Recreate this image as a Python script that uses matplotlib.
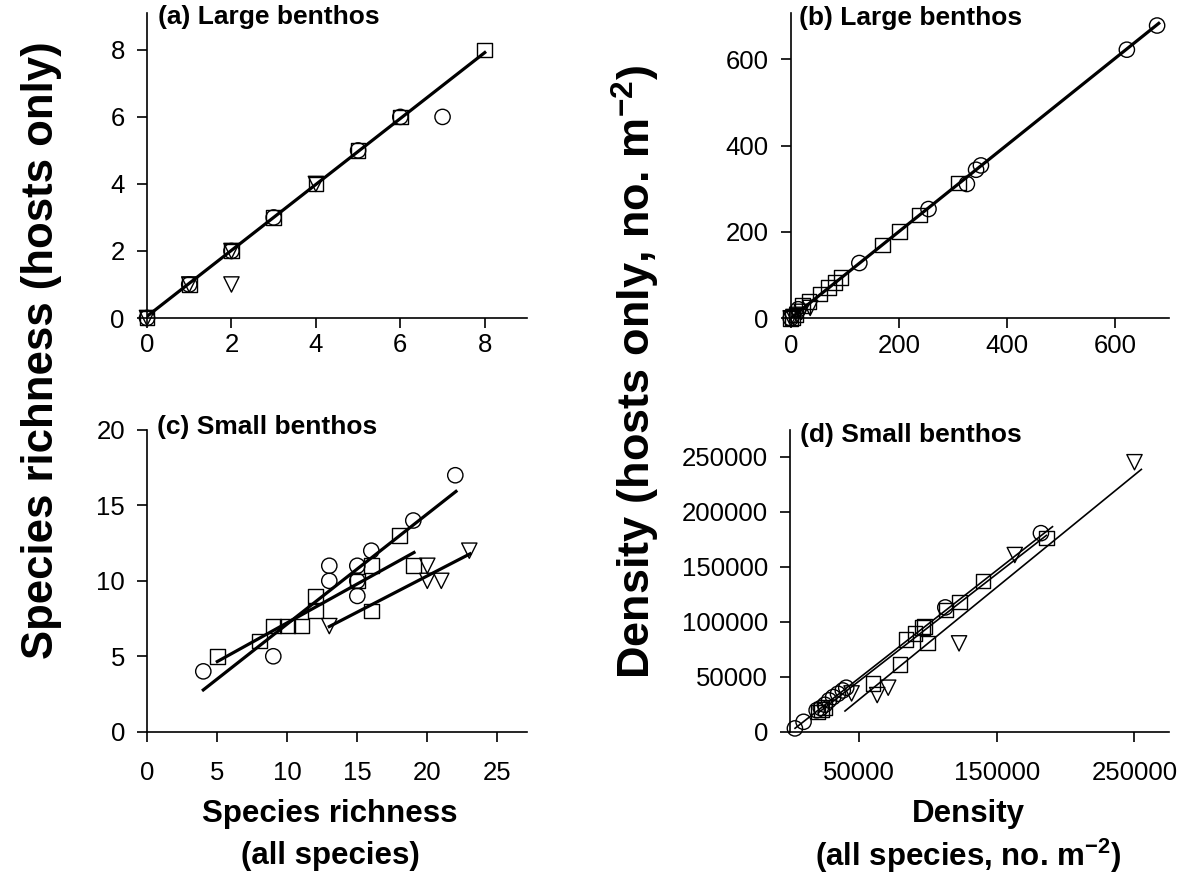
import matplotlib
matplotlib.use('Agg')
import matplotlib.pyplot as plt

plt.rcParams['font.family'] = ['Liberation Sans', 'DejaVu Sans']
plt.rcParams['mathtext.fontset'] = 'custom'
plt.rcParams['mathtext.rm'] = 'Liberation Sans'
plt.rcParams['mathtext.bf'] = 'Liberation Sans:bold'

# (a) large benthos, species richness
a_sq_x = [0, 1, 2, 3, 4, 5, 6, 8]
a_sq_y = [0, 1, 2, 3, 4, 5, 6, 8]
a_ci_x = [0, 1, 2, 3, 5, 6, 7]
a_ci_y = [0, 1, 2, 3, 5, 6, 6]
a_tr_x = [0, 1, 2, 2, 4]
a_tr_y = [0, 1, 2, 1, 4]
a_fit_x = [0, 8]
a_fit_y = [0.05, 7.92]

# (b) large benthos, density
b_ci_x = [0, 14, 127, 255, 326, 343, 352, 622, 678]
b_ci_y = [0, 21, 128, 253, 311, 344, 354, 622, 678]
b_sq_x = [0, 3, 10, 22, 34, 54, 70, 82, 93, 170, 201, 238, 310]
b_sq_y = [0, 2, 8, 29, 39, 56, 71, 83, 94, 170, 201, 239, 313]
b_tr_x = [0, 5, 12, 20, 36]
b_tr_y = [0, 3, 8, 15, 24]
b_fit_x = [0, 681]
b_fit_y = [0, 683]

# (c) small benthos, species richness
c_ci_x = [4, 9, 13, 13, 15, 15, 15, 16, 19, 22]
c_ci_y = [4, 5, 10, 11, 9, 10, 11, 12, 14, 17]
c_sq_x = [5, 8, 9, 10, 11, 12, 12, 15, 16, 16, 18, 19]
c_sq_y = [5, 6, 7, 7, 7, 8, 9, 10, 8, 11, 13, 11]
c_tr_x = [13, 20, 20, 21, 23]
c_tr_y = [7, 11, 10, 10, 12]
c_ci_fit_x = [4, 22.05]
c_ci_fit_y = [2.77, 15.93]
c_sq_fit_x = [5, 19.05]
c_sq_fit_y = [4.65, 11.88]
c_tr_fit_x = [13, 23.05]
c_tr_fit_y = [6.97, 11.79]

# (d) small benthos, density
d_ci_x = [3200, 9500, 19000, 22000, 25000, 28000, 31000, 34500, 38000, 40500, 112500, 182000]
d_ci_y = [3000, 9000, 19500, 21500, 24500, 28500, 31500, 34500, 37500, 40000, 113000, 180500]
d_sq_x = [20000, 22500, 25000, 60000, 79500, 84000, 90500, 96000, 97500, 99500, 113000, 123000, 140000, 186000]
d_sq_y = [18000, 20000, 22000, 44000, 61000, 84000, 89500, 94500, 95500, 80500, 110500, 118000, 137000, 176000]
d_tr_x = [44400, 63000, 71000, 122500, 163000, 250000]
d_tr_y = [34800, 33300, 40000, 80300, 160600, 245000]
d_ci_fit_x = [3300, 190400]
d_ci_fit_y = [3100, 186400]
d_sq_fit_x = [20000, 186000]
d_sq_fit_y = [17000, 178500]
d_tr_fit_x = [39600, 255000]
d_tr_fit_y = [18800, 238500]

W, H = 1184, 877
fig = plt.figure(figsize=(W / 100, H / 100), dpi=100)


def make_ax(l, r, b, t):
    ax = fig.add_axes([l / W, 1 - b / H, (r - l) / W, (b - t) / H])
    ax.spines['top'].set_visible(False)
    ax.spines['right'].set_visible(False)
    for s in ('left', 'bottom'):
        ax.spines[s].set_linewidth(1.2)
    ax.tick_params(direction='out', length=7, width=1.2, labelsize=18.5)
    ax.tick_params(axis='y', pad=9)
    return ax


def pts(ax, x, y, m, s):
    ax.scatter(x, y, marker=m, s=s ** 2, facecolors='none', edgecolors='black',
               linewidths=1.0, clip_on=False, zorder=3)


ax_a = make_ax(147, 527, 318, 13)
pts(ax_a, a_sq_x, a_sq_y, 's', 10.5)
pts(ax_a, a_ci_x, a_ci_y, 'o', 11)
pts(ax_a, a_tr_x, a_tr_y, 'v', 11)
ax_a.plot(a_fit_x, a_fit_y, color='black', lw=2.3, zorder=4)
ax_a.set_xlim(0, 9)
ax_a.set_ylim(0, 9.1)
ax_a.set_xticks([0, 2, 4, 6, 8])
ax_a.set_yticks([0, 2, 4, 6, 8])
ax_a.tick_params(axis='x', pad=4)

ax_b = make_ax(790.7, 1169, 318.3, 13)
pts(ax_b, b_sq_x, b_sq_y, 's', 10.5)
pts(ax_b, b_ci_x, b_ci_y, 'o', 11)
pts(ax_b, b_tr_x, b_tr_y, 'v', 11)
ax_b.plot(b_fit_x, b_fit_y, color='black', lw=2.3, zorder=4)
ax_b.set_xlim(0, 700)
ax_b.set_ylim(0, 707)
ax_b.set_xticks([0, 200, 400, 600])
ax_b.set_yticks([0, 200, 400, 600])
ax_b.tick_params(axis='x', pad=4)

ax_c = make_ax(147.3, 526.7, 731.7, 430)
pts(ax_c, c_sq_x, c_sq_y, 's', 10.5)
pts(ax_c, c_ci_x, c_ci_y, 'o', 11)
pts(ax_c, c_tr_x, c_tr_y, 'v', 11)
for fx, fy in [(c_ci_fit_x, c_ci_fit_y), (c_sq_fit_x, c_sq_fit_y), (c_tr_fit_x, c_tr_fit_y)]:
    ax_c.plot(fx, fy, color='black', lw=2.3, zorder=4)
ax_c.set_xlim(0, 27.1)
ax_c.set_ylim(0, 20)
ax_c.set_xticks([0, 5, 10, 15, 20, 25])
ax_c.set_yticks([0, 5, 10, 15, 20])
ax_c.tick_params(axis='x', pad=14)

ax_d = make_ax(790.5, 1169.3, 731.7, 430)
pts(ax_d, d_sq_x, d_sq_y, 's', 10.5)
pts(ax_d, d_ci_x, d_ci_y, 'o', 11)
pts(ax_d, d_tr_x, d_tr_y, 'v', 11)
for fx, fy in [(d_ci_fit_x, d_ci_fit_y), (d_sq_fit_x, d_sq_fit_y), (d_tr_fit_x, d_tr_fit_y)]:
    ax_d.plot(fx, fy, color='black', lw=1.2, zorder=4)
ax_d.set_xlim(0, 275300)
ax_d.set_ylim(0, 274300)
ax_d.set_xticks([50000, 150000, 250000])
ax_d.set_yticks([0, 50000, 100000, 150000, 200000, 250000])
ax_d.tick_params(axis='x', pad=14)

# panel titles
for x, y, t in [(158, 17, '(a) Large benthos'), (799, 18, '(b) Large benthos'),
                (157, 427, '(c) Small benthos'), (800, 435, '(d) Small benthos')]:
    fig.text(x / W, 1 - y / H, t, fontsize=19, fontweight='bold', ha='left', va='center')

# axis titles
fig.text(42 / W, 1 - 350 / H, 'Species richness (hosts only)', rotation=90,
         fontsize=31.5, fontweight='bold', ha='center', va='center')
fig.text(636 / W, 1 - 372 / H, r'Density (hosts only, no. m$^{\mathbf{-2}}$)', rotation=90,
         fontsize=32.5, fontweight='bold', ha='center', va='center')
fig.text(330 / W, 1 - 814 / H, 'Species richness', fontsize=22.5,
         fontweight='bold', ha='center', va='center')
fig.text(330 / W, 1 - 856 / H, '(all species)', fontsize=22.5,
         fontweight='bold', ha='center', va='center')
fig.text(968 / W, 1 - 814 / H, 'Density', fontsize=22.5,
         fontweight='bold', ha='center', va='center')
fig.text(968 / W, 1 - 856 / H, r'(all species, no. m$^{\mathbf{-2}}$)', fontsize=22.5,
         fontweight='bold', ha='center', va='center')

fig.savefig('out.png', dpi=100)
